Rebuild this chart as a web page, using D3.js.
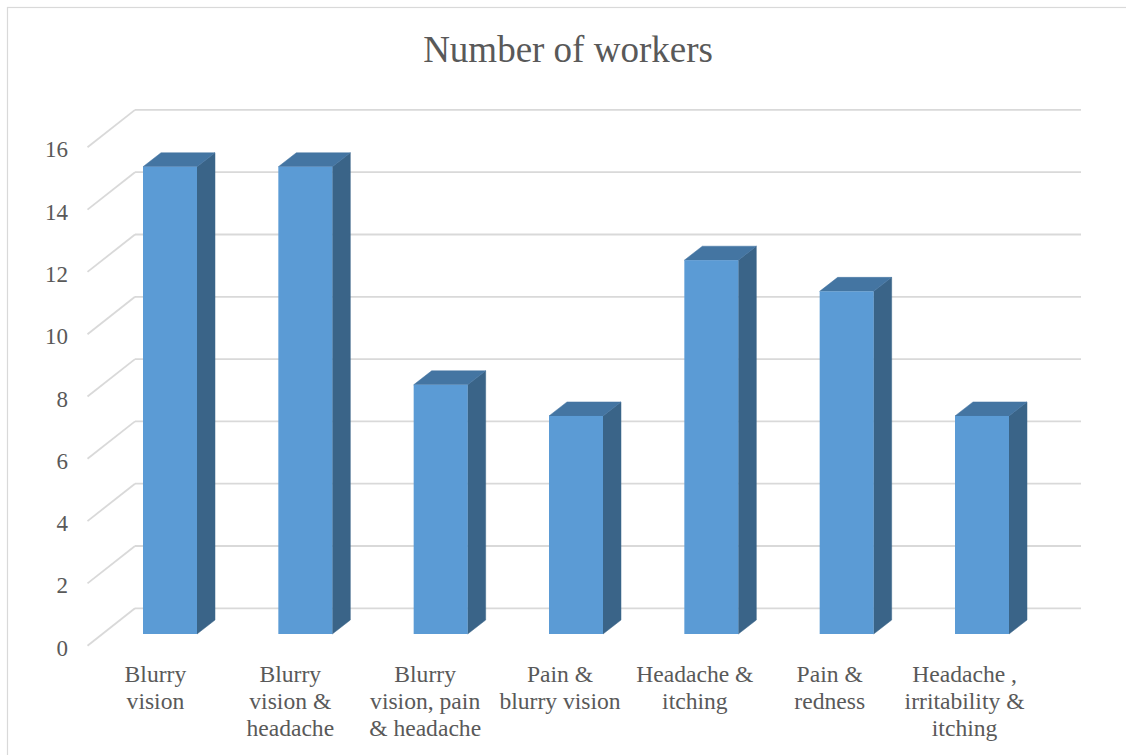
<!DOCTYPE html>
<html>
<head>
<meta charset="utf-8">
<script src="https://cdn.jsdelivr.net/npm/d3@7"></script>
<style>
  html, body { margin: 0; padding: 0; background: #fff; }
  svg { display: block; }
</style>
</head>
<body>
<svg id="chart" width="1126" height="755"></svg>
<script>
// ---- data ----
const title = "Number of workers";
const categories = [
  "Blurry vision",
  "Blurry vision & headache",
  "Blurry vision, pain & headache",
  "Pain & blurry vision",
  "Headache & itching",
  "Pain & redness",
  "Headache , irritability & itching"
];
const categoryLines = [
  ["Blurry", "vision"],
  ["Blurry", "vision &", "headache"],
  ["Blurry", "vision, pain", "& headache"],
  ["Pain &", "blurry vision"],
  ["Headache &", "itching"],
  ["Pain &", "redness"],
  ["Headache ,", "irritability &", "itching"]
];
const values = [15, 15, 8, 7, 12, 11, 7];
const yTicks = [0, 2, 4, 6, 8, 10, 12, 14, 16];

// ---- layout ----
const FONT = "'Liberation Serif', 'Times New Roman', 'DejaVu Serif', serif";
const TXT = "#595959";
const svg = d3.select("#chart");
const unit = 31.15;
const backX0 = 135, backX1 = 1081, frontX0 = 87.5;
const yBack  = d3.scaleLinear().domain([0, 16]).range([608.3, 608.3 - 16 * unit]);
const yFront = d3.scaleLinear().domain([0, 16]).range([645.7, 645.7 - 16 * unit]);
const yBar   = d3.scaleLinear().domain([0, 16]).range([634, 634 - 16 * unit]);
const xLabel = d3.scaleBand().domain(categories).range([88, 1032]);
const xBar   = d3.scalePoint().domain(categories).range([143, 955]);
const barW = 54, depthX = 18, depthY = -14;

const gridColor = "#d9d9d9";

// outer border
svg.append("rect")
  .attr("x", 7.5).attr("y", 7.5)
  .attr("width", 1130).attr("height", 760)
  .attr("fill", "none").attr("stroke", gridColor).attr("stroke-width", 1.2);

// title
svg.append("text")
  .attr("x", 568).attr("y", 62)
  .attr("text-anchor", "middle")
  .attr("font-family", FONT).attr("fill", TXT)
  .attr("font-size", 37)
  .text(title);

// gridlines (back wall + side-wall diagonals)
const grid = svg.append("g").attr("stroke", gridColor).attr("stroke-width", 1.8).attr("fill", "none");
grid.selectAll("line.h").data(yTicks).join("line")
  .attr("class", "h")
  .attr("x1", backX0).attr("x2", backX1)
  .attr("y1", d => yBack(d)).attr("y2", d => yBack(d));
grid.selectAll("line.d").data(yTicks).join("line")
  .attr("class", "d")
  .attr("x1", frontX0).attr("y1", d => yFront(d))
  .attr("x2", backX0).attr("y2", d => yBack(d));

// y labels
svg.append("g").selectAll("text").data(yTicks).join("text")
  .attr("x", 68).attr("y", d => yFront(d) + 2)
  .attr("dy", "0.35em")
  .attr("text-anchor", "end")
  .attr("font-family", FONT).attr("fill", TXT)
  .attr("font-size", 23)
  .text(d => d);

// bars
const bars = svg.append("g").selectAll("g").data(categories).join("g");
bars.each(function (c, i) {
  const g = d3.select(this);
  const x = xBar(c), yT = yBar(values[i]), yB = yBar(0);
  g.append("path")
    .attr("d", `M${x + barW},${yT} L${x + barW + depthX},${yT + depthY} L${x + barW + depthX},${yB + depthY} L${x + barW},${yB} Z`)
    .attr("fill", "#3a6488").attr("stroke", "#3a6488").attr("stroke-width", 0.5);
  g.append("path")
    .attr("d", `M${x},${yT} L${x + depthX},${yT + depthY} L${x + barW + depthX},${yT + depthY} L${x + barW},${yT} Z`)
    .attr("fill", "#4475a2").attr("stroke", "#4475a2").attr("stroke-width", 0.5);
  g.append("rect")
    .attr("x", x).attr("y", yT)
    .attr("width", barW).attr("height", yB - yT)
    .attr("fill", "#5b9bd5");
});

// category labels
const labels = svg.append("g").selectAll("text").data(categories).join("text")
  .attr("text-anchor", "middle")
  .attr("font-family", FONT).attr("fill", TXT)
  .attr("font-size", 23.6);
labels.each(function (c, i) {
  const t = d3.select(this);
  const cx = xLabel(c) + xLabel.bandwidth() / 2;
  categoryLines[i].forEach((ln, k) => {
    t.append("tspan").attr("x", cx).attr("y", 682 + k * 26.8).text(ln);
  });
});
</script>
</body>
</html>
